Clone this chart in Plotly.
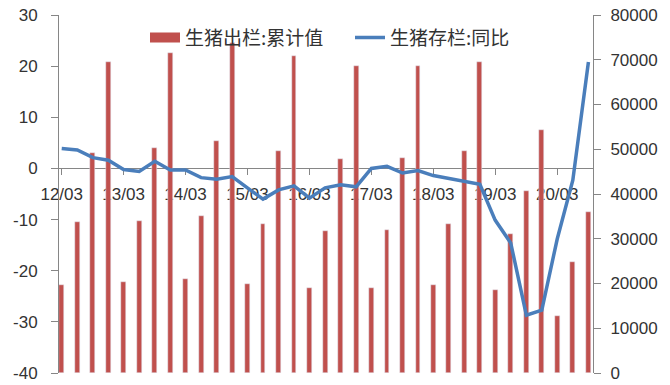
import plotly.graph_objects as go

# Quarterly dates (2012-03 .. 2020-09)
dates = [f"{y}-{m:02d}" for y in range(2012, 2021) for m in (3, 6, 9, 12)][:35]

# 生猪出栏:累计值 (right axis)
slaughter = [19700, 33700, 49200, 69600,
             20300, 34000, 50200, 71400,
             20900, 35100, 51800, 73700,
             20000, 33300, 49600, 70900,
             18900, 31700, 47800, 68600,
             18900, 32000, 48100, 68700,
             19700, 33300, 49500, 69400,
             18600, 31100, 40700, 54300,
             12800, 24900, 36000]

# 生猪存栏:同比 (left axis)
inventory_yoy = [3.9, 3.6, 2.1, 1.6,
                 -0.2, -0.6, 1.4, -0.3,
                 -0.3, -1.8, -2.1, -1.6,
                 -3.8, -6.0, -4.2, -3.4,
                 -5.8, -3.8, -3.2, -3.6,
                 0.0, 0.4, -0.9, -0.4,
                 -1.4, -2.0, -2.5, -3.1,
                 -10.1, -14.6, -28.7, -27.7,
                 -13.8, -2.3, 20.8]

left_ticks = [-40, -30, -20, -10, 0, 10, 20, 30]
left_ticktext = [str(v) for v in left_ticks]
right_ticks = [0, 10000, 20000, 30000, 40000, 50000, 60000, 70000, 80000]
right_ticktext = [str(v) for v in right_ticks]

name_bar = "生猪出栏:累计值"
name_line = "生猪存栏:同比"

RED = "#C0504D"
BLUE = "#4A7EBB"
AX = "#868686"
TXT = "#333333"
tickfont = dict(family="Liberation Sans", size=17, color=TXT)

fig = go.Figure()
fig.add_trace(go.Bar(x=dates, y=slaughter, name=name_bar, marker_color=RED,
                     width=2.5e9, yaxis="y", showlegend=False))
# legend entry for the bars (wide flat swatch like the original)
fig.add_trace(go.Scatter(x=[None], y=[None], mode="lines", name=name_bar,
                         line=dict(color=RED, width=10), yaxis="y"))
fig.add_trace(go.Scatter(x=dates, y=inventory_yoy, name=name_line, mode="lines",
                         line=dict(color=BLUE, width=3.5), yaxis="y2"))

fig.update_layout(
    width=670, height=385,
    margin=dict(l=59, r=77, t=15, b=12),
    paper_bgcolor="white", plot_bgcolor="white",
    bargap=0,
    xaxis=dict(type="date", range=["2012-02-14", "2020-09-28"],
               tick0="2012-03-01", dtick="M12", tickformat="%y/%m",
               anchor="free", position=40 / 70, automargin=False,
               showline=True, linecolor=AX, linewidth=1,
               ticks="outside", ticklen=6, tickcolor=AX,
               ticklabelstandoff=4, layer="below traces",
               showgrid=False, zeroline=False, tickfont=tickfont),
    yaxis=dict(side="right", range=[0, 80000],
               tickvals=right_ticks, ticktext=right_ticktext,
               automargin=False,
               showline=True, linecolor=AX, linewidth=1,
               ticks="outside", ticklen=7, tickcolor=AX,
               ticklabelstandoff=6,
               showgrid=False, zeroline=False, tickfont=tickfont),
    yaxis2=dict(side="left", overlaying="y", range=[-40, 30],
                tickvals=left_ticks, ticktext=left_ticktext,
                automargin=False,
                showline=True, linecolor=AX, linewidth=1,
                ticks="outside", ticklen=7, tickcolor=AX,
                ticklabelstandoff=10,
                showgrid=False, zeroline=False, tickfont=tickfont),
    legend=dict(orientation="h", x=(145 - 59) / 534, xanchor="left",
                y=0.99, yanchor="top", bgcolor="rgba(0,0,0,0)",
                font=dict(family="Noto Sans CJK SC", size=19, color=TXT),
                entrywidthmode="pixels", entrywidth=160,
                traceorder="normal"),
    showlegend=True,
)

fig.write_html("out.html")
